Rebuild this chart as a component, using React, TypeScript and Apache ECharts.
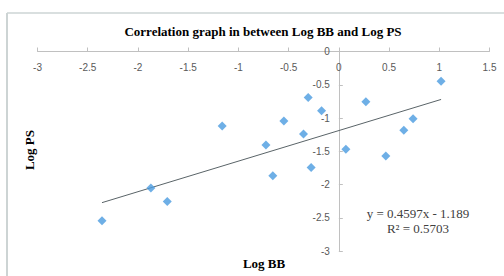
import React, { useEffect, useRef } from "react";
import * as echarts from "echarts";

const logBB = [-2.358, -1.871, -1.708, -1.161, -0.726, -0.657, -0.547, -0.352, -0.305, -0.276, -0.172, 0.07, 0.269, 0.468, 0.647, 0.739, 1.018];
const logPS = [-2.546, -2.052, -2.257, -1.121, -1.405, -1.868, -1.046, -1.241, -0.692, -1.744, -0.892, -1.47, -0.757, -1.57, -1.186, -1.011, -0.448];
const slope = 0.4597;
const intercept = -1.189;
const equationLines = ["y = 0.4597x - 1.189", "R² = 0.5703"];
const titleText = "Correlation graph in between Log BB and Log PS";
const xRange = [-3, 1.5];
const yRange = [-3, 0];

export default function App() {
  const ref = useRef<HTMLDivElement>(null);
  useEffect(() => {
    if (!ref.current) return;
    const chart = echarts.init(ref.current, null, { renderer: "svg" });
    const pts = logBB.map((x, i) => [x, logPS[i]]);
    const xMin = Math.min(...logBB);
    const xMax = Math.max(...logBB);
    const trend = [
      [xMin, slope * xMin + intercept],
      [xMax, slope * xMax + intercept],
    ];
    const gridLeft = 37.5;
    const gridRight = 14.5;
    const gridWidth = 504 - gridLeft - gridRight;
    const yOffset = -((0 - xRange[0]) / (xRange[1] - xRange[0])) * gridWidth;
    const serif = "'Liberation Serif', 'Times New Roman', serif";
    const sans = "'Liberation Sans', Arial, sans-serif";
    chart.setOption({
      animation: false,
      backgroundColor: "#ffffff",
      title: {
        text: titleText,
        left: 258,
        textAlign: "center",
        top: 20,
        textStyle: { fontFamily: serif, fontWeight: "bold", fontSize: 13, color: "#000" },
      },
      grid: { left: gridLeft, right: gridRight, top: 51.5, bottom: 25 },
      xAxis: {
        type: "value",
        position: "top",
        min: xRange[0],
        max: xRange[1],
        interval: 0.5,
        axisLine: { onZero: false, lineStyle: { color: "#c0c0c0", width: 1 } },
        axisTick: { show: true, inside: false, length: 4, lineStyle: { color: "#c0c0c0" } },
        axisLabel: { inside: true, fontFamily: sans, fontSize: 10, color: "#595959", margin: 11 },
        splitLine: { show: false },
      },
      yAxis: {
        type: "value",
        position: "left",
        offset: yOffset,
        min: yRange[0],
        max: yRange[1],
        interval: 0.5,
        axisLine: { show: true, onZero: false, lineStyle: { color: "#c0c0c0", width: 1 } },
        axisTick: { show: true, inside: true, length: 4, lineStyle: { color: "#c0c0c0" } },
        axisLabel: { fontFamily: sans, fontSize: 10, color: "#595959", margin: 9 },
        splitLine: { show: false },
      },
      series: [
        {
          type: "line",
          data: trend,
          symbol: "none",
          lineStyle: { color: "#5a6468", width: 1 },
          z: 1,
        },
        {
          type: "scatter",
          data: pts,
          symbol: "diamond",
          symbolSize: 9,
          itemStyle: { color: "#4a9be0" },
          z: 2,
        },
      ],
      graphic: [
        { type: "line", shape: { x1: 7, y1: 13, x2: 504, y2: 13 }, style: { stroke: "#cdd4d4", lineWidth: 1.5 } },
        { type: "line", shape: { x1: 7, y1: 13, x2: 7, y2: 276 }, style: { stroke: "#cdd4d4", lineWidth: 2 } },
        {
          type: "text",
          x: 29,
          y: 150,
          rotation: Math.PI / 2,
          style: { text: "Log PS", font: `bold 13px ${serif}`, fill: "#000", align: "center", verticalAlign: "middle" },
        },
        {
          type: "text",
          x: 264,
          y: 263,
          style: { text: "Log BB", font: `bold 13px ${serif}`, fill: "#000", align: "center", verticalAlign: "middle" },
        },
        {
          type: "text",
          x: 418,
          y: 213,
          style: { text: equationLines[0], font: `13px ${serif}`, fill: "#404040", align: "center", verticalAlign: "middle" },
        },
        {
          type: "text",
          x: 418,
          y: 228,
          style: { text: equationLines[1], font: `13px ${serif}`, fill: "#404040", align: "center", verticalAlign: "middle" },
        },
      ],
    });
    return () => chart.dispose();
  }, []);
  return <div ref={ref} style={{ width: 504, height: 276, position: "fixed", left: 0, top: 0 }} />;
}
